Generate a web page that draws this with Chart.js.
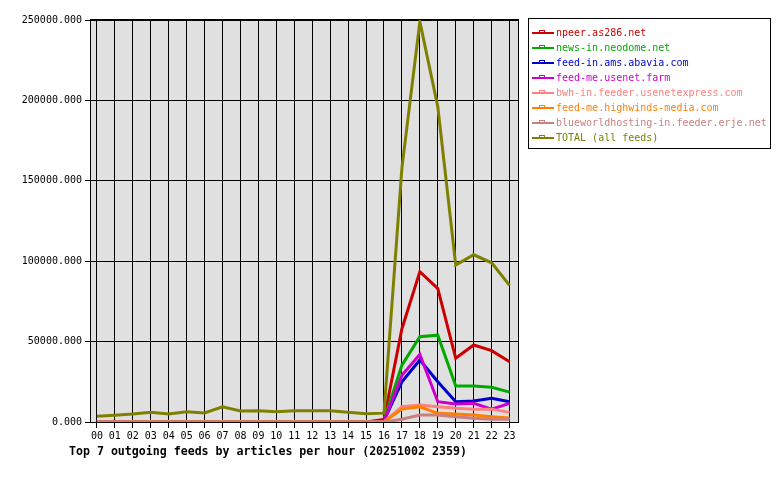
<!DOCTYPE html>
<html>
<head>
<meta charset="utf-8">
<title>Top 7 outgoing feeds</title>
<script src="https://cdn.jsdelivr.net/npm/chart.js@4/dist/chart.umd.min.js"></script>
<style>
  body { margin: 0; background: #fff; }
  #wrap { position: relative; width: 780px; height: 480px; font-family: "DejaVu Sans Mono", monospace; }
  #grafico { position: absolute; left: 0; top: 0; }
  #legenda { position: absolute; left: 528px; top: 18px; width: 243px; height: 131px; border: 1px solid #000; box-sizing: border-box; }
  .item { position: absolute; left: 0; height: 15px; line-height: 15px; font-size: 10px; white-space: nowrap; }
  .traco { position: absolute; left: 3px; width: 22px; height: 2px; top: 7px; }
  .marca { position: absolute; left: 10px; width: 4px; height: 2px; top: 5px; border: 1px solid; border-bottom: none; }
  .nome { position: absolute; left: 27px; top: 0; }
  #titulo { position: absolute; left: 69px; top: 444px; font-size: 11.6px; font-weight: bold; white-space: nowrap; }
</style>
</head>
<body>
<div id="wrap">
  <canvas id="grafico" width="780" height="480"></canvas>
  <div id="legenda"></div>
  <div id="titulo">Top 7 outgoing feeds by articles per hour (20251002 2359)</div>
</div>
<script>
const hours = ["00","01","02","03","04","05","06","07","08","09","10","11",
               "12","13","14","15","16","17","18","19","20","21","22","23"];

const feedNames = [
    "npeer.as286.net",
    "news-in.neodome.net",
    "feed-in.ams.abavia.com",
    "feed-me.usenet.farm",
    "bwh-in.feeder.usenetexpress.com",
    "feed-me.highwinds-media.com",
    "blueworldhosting-in.feeder.erje.net",
    "TOTAL (all feeds)"
];
const feedColors = ["#cc0000", "#00aa00", "#0000cc", "#cc00cc", "#ff8080", "#ff8000", "#cc7f7f", "#808000"];

// articles per hour
const npeer      = [0,0,0,0,0,0,0,0,0,0,0,0,0,0,0,0, 1500, 58000, 93500, 83000, 39600, 47900, 44400, 37500];
const neodome    = [0,0,0,0,0,0,0,0,0,0,0,0,0,0,0,0, 1000, 35400, 53000, 54000, 22400, 22400, 21600, 18600];
const abavia     = [0,0,0,0,0,0,0,0,0,0,0,0,0,0,0,0,  800, 25000, 38600, 25000, 12600, 13000, 14700, 12600];
const usenetFarm = [0,0,0,0,0,0,0,0,0,0,0,0,0,0,0,0,  500, 29000, 42000, 12600, 11200, 11600,  8000, 11600];
const usenetExp  = [0,0,0,0,0,0,0,0,0,0,0,0,0,0,0,0,    0,  9500, 10600,  9500,  8500,  8000,  8000,  6000];
const highwinds  = [0,0,0,0,0,0,0,0,0,0,0,0,0,0,0,0,    0,  8000,  9500,  5400,  5000,  4300,  3300,  2500];
const erje       = [0,0,0,0,0,0,0,0,0,0,0,0,0,0,0,0,    0,  1700,  4300,  4300,  3300,  2300,  1700,  1700];
const total      = [3500, 4200, 5000, 6000, 5000, 6400, 5600, 9500, 6800, 7000, 6400, 7000,
                    7000, 7000, 6000, 5200, 5500, 158000, 249000, 196000, 97600, 104000, 99000, 85000];

const series = [npeer, neodome, abavia, usenetFarm, usenetExp, highwinds, erje, total];
const yTicks = [0, 50000, 100000, 150000, 200000, 250000];

Chart.defaults.font.family = "'DejaVu Sans Mono', monospace";
Chart.defaults.font.size = 10;
Chart.defaults.color = "#000";

const fundoPlot = {
    id: "fundoPlot",
    beforeDraw(chart) {
        const { ctx, chartArea: a } = chart;
        ctx.save();
        ctx.fillStyle = "#e0e0e0";
        ctx.fillRect(a.left, a.top, a.right - a.left, a.bottom - a.top);
        ctx.restore();
    },
    afterDraw(chart) {
        const { ctx, chartArea: a } = chart;
        ctx.save();
        ctx.strokeStyle = "#000";
        ctx.lineWidth = 1;
        ctx.strokeRect(a.left - 0.5, a.top - 0.5, a.right - a.left + 1, a.bottom - a.top + 1);
        ctx.restore();
    }
};

const datasets = series.map((valores, i) => ({
    label: feedNames[i],
    data: valores.map((v, h) => ({ x: h, y: v })),
    borderColor: feedColors[i],
    backgroundColor: feedColors[i],
    borderWidth: 3,
    pointRadius: 0,
    tension: 0,
    fill: false,
    order: series.length - i
}));

new Chart("grafico", {
    type: "line",
    data: { datasets },
    options: {
        responsive: false,
        animation: false,
        events: [],
        layout: { padding: { left: 0, top: 20, right: 262, bottom: 0 } },
        plugins: { legend: { display: false }, tooltip: { enabled: false } },
        scales: {
            x: {
                type: "linear",
                min: -0.33,
                max: 23.47,
                afterFit: (s) => { s.height = 58; },
                afterBuildTicks: (s) => { s.ticks = hours.map((_, i) => ({ value: i })); },
                grid: { color: "#000", lineWidth: 1, tickLength: 6 },
                border: { display: false },
                ticks: { padding: 2, maxRotation: 0, autoSkip: false, callback: (v) => hours[v] }
            },
            y: {
                min: 0,
                max: 250000,
                afterFit: (s) => { s.width = 91; },
                afterBuildTicks: (s) => { s.ticks = yTicks.map((v) => ({ value: v })); },
                grid: { color: "#000", lineWidth: 1, tickLength: 6 },
                border: { display: false },
                ticks: { padding: 3, callback: (v) => v.toFixed(3) }
            }
        }
    },
    plugins: [fundoPlot]
});

// legenda
const legenda = document.getElementById("legenda");
feedNames.forEach((nome, i) => {
    const item = document.createElement("div");
    item.className = "item";
    item.style.top = (6 + i * 15) + "px";
    item.style.color = feedColors[i];

    const traco = document.createElement("div");
    traco.className = "traco";
    traco.style.background = feedColors[i];
    const marca = document.createElement("div");
    marca.className = "marca";
    marca.style.borderColor = feedColors[i];
    const texto = document.createElement("span");
    texto.className = "nome";
    texto.textContent = nome;

    item.appendChild(traco);
    item.appendChild(marca);
    item.appendChild(texto);
    legenda.appendChild(item);
});
</script>
</body>
</html>
